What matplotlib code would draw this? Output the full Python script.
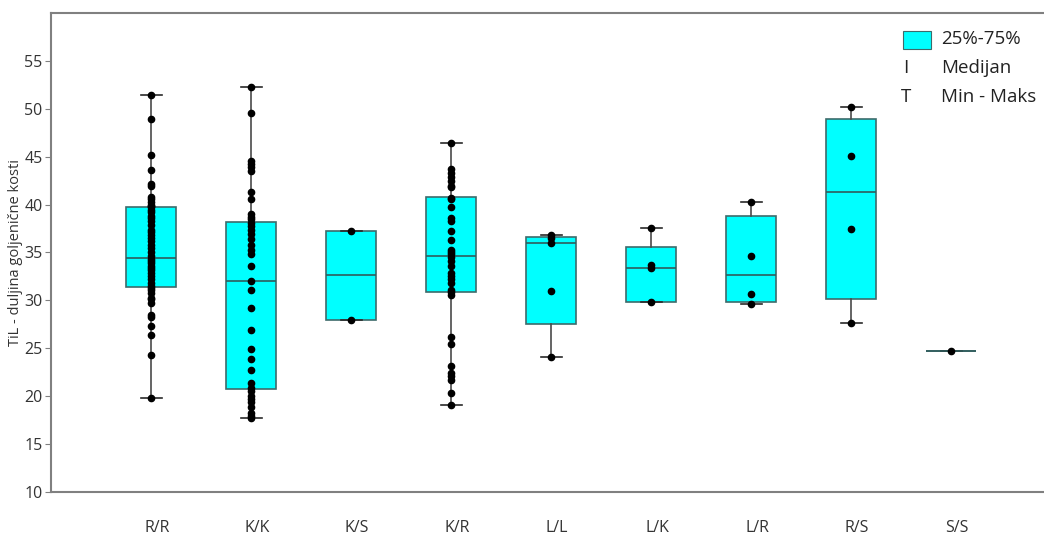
import matplotlib
matplotlib.use('Agg')
import matplotlib.pyplot as plt
import matplotlib.transforms as mtransforms
from matplotlib.patches import Rectangle

plt.rcParams['font.family'] = ['Open Sans', 'DejaVu Sans']

# kategorije i statistike (25%-75%, medijan, min-maks)
kategorije = ['R/R', 'K/K', 'K/S', 'K/R', 'L/L', 'L/K', 'L/R', 'R/S', 'S/S']
q1 = [31.4, 20.8, 28.0, 30.9, 27.5, 29.8, 29.85, 30.1, 24.7]
medijan = [34.45, 32.0, 32.6, 34.6, 36.0, 33.4, 32.7, 41.3, 24.7]
q3 = [39.7, 38.2, 37.2, 40.8, 36.65, 35.6, 38.85, 48.9, 24.7]
minimum = [19.8, 17.7, 28.0, 19.1, 24.05, 29.8, 29.6, 27.65, 24.7]
maksimum = [51.4, 52.3, 37.2, 46.4, 36.8, 37.55, 40.3, 50.2, 24.7]

# pojedinačna mjerenja
tocke_rr = [51.4, 48.9, 45.2, 43.6, 42.1, 41.9, 40.8, 40.6, 40.3, 40.0, 39.9, 39.7,
            39.4, 39.2, 38.8, 38.6, 38.3, 37.9, 37.4, 37.1, 36.8, 36.5, 36.2, 35.8,
            35.5, 35.0, 34.6, 34.3, 34.1, 33.9, 33.6, 33.4, 33.2, 32.9, 32.5, 32.2,
            31.8, 31.5, 31.3, 31.1, 30.8, 30.3, 30.1, 29.7, 28.5, 28.3, 27.3, 26.4,
            24.3, 19.8]
tocke_kk = [52.3, 49.6, 44.6, 44.2, 43.9, 43.5, 41.3, 40.6, 39.0, 38.7, 38.5, 38.1,
            37.8, 37.3, 36.9, 36.4, 35.8, 35.3, 34.8, 33.6, 32.0, 31.1, 29.2, 26.9,
            24.9, 23.9, 22.7, 21.4, 20.9, 20.5, 20.0, 19.7, 19.4, 18.9, 18.2, 17.9,
            17.7]
tocke_ks = [37.2, 28.0]
tocke_kr = [46.4, 43.7, 43.3, 42.9, 42.5, 41.9, 41.8, 40.7, 40.6, 39.7, 38.6, 38.3,
            37.2, 36.3, 35.3, 35.0, 34.8, 34.5, 34.1, 33.6, 32.9, 32.5, 32.2, 31.8,
            31.1, 30.9, 30.6, 26.2, 25.5, 23.2, 22.4, 22.1, 21.7, 20.3, 19.1]
tocke_ll = [36.8, 36.5, 36.0, 31.0, 24.05]
tocke_lk = [37.55, 33.65, 33.4, 29.8]
tocke_lr = [40.3, 34.65, 30.7, 29.6]
tocke_rs = [50.2, 45.1, 37.5, 27.65]
tocke_ss = [24.7]
tocke = [tocke_rr, tocke_kk, tocke_ks, tocke_kr, tocke_ll,
         tocke_lk, tocke_lr, tocke_rs, tocke_ss]

stats = []
for i in range(len(kategorije)):
    stats.append({'label': kategorije[i], 'q1': q1[i], 'med': medijan[i], 'q3': q3[i],
                  'whislo': minimum[i], 'whishi': maksimum[i], 'fliers': []})

fig = plt.figure(figsize=(10.44, 5.43), dpi=100)
ax = fig.add_axes([0.0489, 0.0939, 0.9511, 0.8822])

pozicije = list(range(1, len(kategorije) + 1))
ax.bxp(stats, positions=pozicije, widths=0.5, capwidths=0.21, patch_artist=True,
       showfliers=False,
       boxprops=dict(facecolor='#00ffff', edgecolor='#3d6b6b', linewidth=1.2),
       medianprops=dict(color='#2f5c5c', linewidth=1.2),
       whiskerprops=dict(color='#4a4a4a', linewidth=1.2),
       capprops=dict(color='#2a2a2a', linewidth=1.2))

for p, t in zip(pozicije, tocke):
    ax.plot([p] * len(t), t, 'o', color='black', markersize=4.5, zorder=3)

ax.set_xlim(0, 9.93)
ax.set_ylim(10, 60)
ax.set_yticks(range(10, 60, 5))
ax.set_xticks(pozicije)
ax.set_xticklabels(kategorije)
ax.tick_params(axis='x', length=0, pad=20, labelsize=11.5, labelcolor='#333333')
ax.tick_params(axis='y', length=4, color='#808080', labelsize=11.5, labelcolor='#333333', pad=2)
ax.set_ylabel('TiL - duljina goljenične kosti', fontsize=10.5, color='#333333', labelpad=1)

# oznake kategorija malo desno, kao u izvorniku
pomak = mtransforms.ScaledTranslation(6 / 100, 0, fig.dpi_scale_trans)
for lbl in ax.get_xticklabels():
    lbl.set_transform(lbl.get_transform() + pomak)

for s in ['left', 'top', 'bottom']:
    ax.spines[s].set_color('#808080')
    ax.spines[s].set_linewidth(1.5)
ax.spines['right'].set_visible(False)

# legenda
ax.add_patch(Rectangle((0.858, 0.925), 0.0282, 0.0376, transform=ax.transAxes,
                       facecolor='#00ffff', edgecolor='#3d6b6b', linewidth=0.8,
                       clip_on=False))
ax.text(0.896, 0.946, '25%-75%', transform=ax.transAxes, va='center', fontsize=13.5, color='#222222')
ax.text(0.861, 0.885, 'I', transform=ax.transAxes, va='center', ha='center', fontsize=13.5, color='#222222')
ax.text(0.896, 0.885, 'Medijan', transform=ax.transAxes, va='center', fontsize=13.5, color='#222222')
ax.text(0.861, 0.825, 'T', transform=ax.transAxes, va='center', ha='center', fontsize=13.5, color='#222222')
ax.text(0.896, 0.825, 'Min - Maks', transform=ax.transAxes, va='center', fontsize=13.5, color='#222222')

fig.savefig('out.png', dpi=100)
